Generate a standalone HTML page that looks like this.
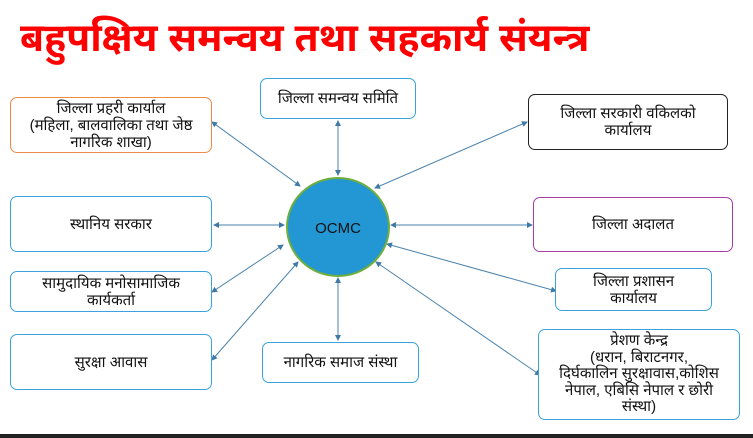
<!DOCTYPE html>
<html><head><meta charset="utf-8"><style>
body{margin:0;width:753px;height:438px;background:#fff;position:relative;overflow:hidden;font-family:"Liberation Sans","Noto Sans Devanagari","Lohit Devanagari",sans-serif}
.t{position:absolute;left:20px;top:16px;font-size:39px;font-weight:bold;color:#f00;white-space:nowrap;line-height:46px}
.b{position:absolute;box-sizing:border-box;border:1.5px solid #3aa3dc;border-radius:7px;display:flex;align-items:center;justify-content:center;text-align:center;font-size:15px;line-height:17px;color:#111;background:#fff}
.bar{position:absolute;left:0;top:434px;width:753px;height:4px;background:#222}
svg{position:absolute;left:0;top:0}
</style></head><body>
<div class="t">बहुपक्षिय समन्वय तथा सहकार्य संयन्त्र</div>
<svg width="753" height="438">
<defs><marker id="a" markerWidth="6" markerHeight="6" refX="5" refY="3" orient="auto-start-reverse"><path d="M0,0L6,3L0,6z" fill="#3f7aa5"/></marker></defs>
<g stroke="#4a82ad" stroke-width="1" marker-start="url(#a)" marker-end="url(#a)">
<line x1="212" y1="122" x2="300" y2="186"/>
<line x1="338" y1="121" x2="338" y2="175"/>
<line x1="527" y1="122" x2="375" y2="188"/>
<line x1="214" y1="225" x2="284" y2="225"/>
<line x1="532" y1="225" x2="391" y2="225"/>
<line x1="212" y1="292" x2="283" y2="245"/>
<line x1="556" y1="291" x2="387" y2="244"/>
<line x1="212" y1="360" x2="298" y2="262"/>
<line x1="338" y1="278" x2="338" y2="340"/>
<line x1="540" y1="375" x2="376" y2="262"/>
</g>
<ellipse cx="338" cy="227" rx="51" ry="49" fill="#2397d4" stroke="#6fae3c" stroke-width="2"/>
<text x="338" y="233" text-anchor="middle" font-size="15" font-family="Liberation Sans,sans-serif" fill="#111">OCMC</text>
</svg>
<div class="b" style="left:10px;top:97px;width:202px;height:56px;border-color:#ee8a4a">जिल्ला प्रहरी कार्याल<br>(महिला, बालवालिका तथा जेष्ठ<br>नागरिक शाखा)</div>
<div class="b" style="left:260px;top:78px;width:156px;height:41px">जिल्ला समन्वय समिति</div>
<div class="b" style="left:528px;top:94px;width:200px;height:56px;border-color:#222">जिल्ला सरकारी वकिलको<br>कार्यालय</div>
<div class="b" style="left:10px;top:196px;width:202px;height:56px">स्थानिय सरकार</div>
<div class="b" style="left:533px;top:197px;width:200px;height:55px;border-color:#a53da5">जिल्ला अदालत</div>
<div class="b" style="left:10px;top:271px;width:202px;height:41px">सामुदायिक मनोसामाजिक<br>कार्यकर्ता</div>
<div class="b" style="left:555px;top:268px;width:157px;height:43px">जिल्ला प्रशासन<br>कार्यालय</div>
<div class="b" style="left:10px;top:334px;width:202px;height:56px">सुरक्षा आवास</div>
<div class="b" style="left:262px;top:342px;width:157px;height:41px">नागरिक समाज संस्था</div>
<div class="b" style="left:538px;top:329px;width:202px;height:91px;line-height:16.5px">प्रेशण केन्द्र<br>(धरान, बिराटनगर,<br>दिर्घकालिन सुरक्षावास,कोशिस<br>नेपाल, एबिसि नेपाल र छोरी<br>संस्था)</div>
<div class="bar"></div>
</body></html>
